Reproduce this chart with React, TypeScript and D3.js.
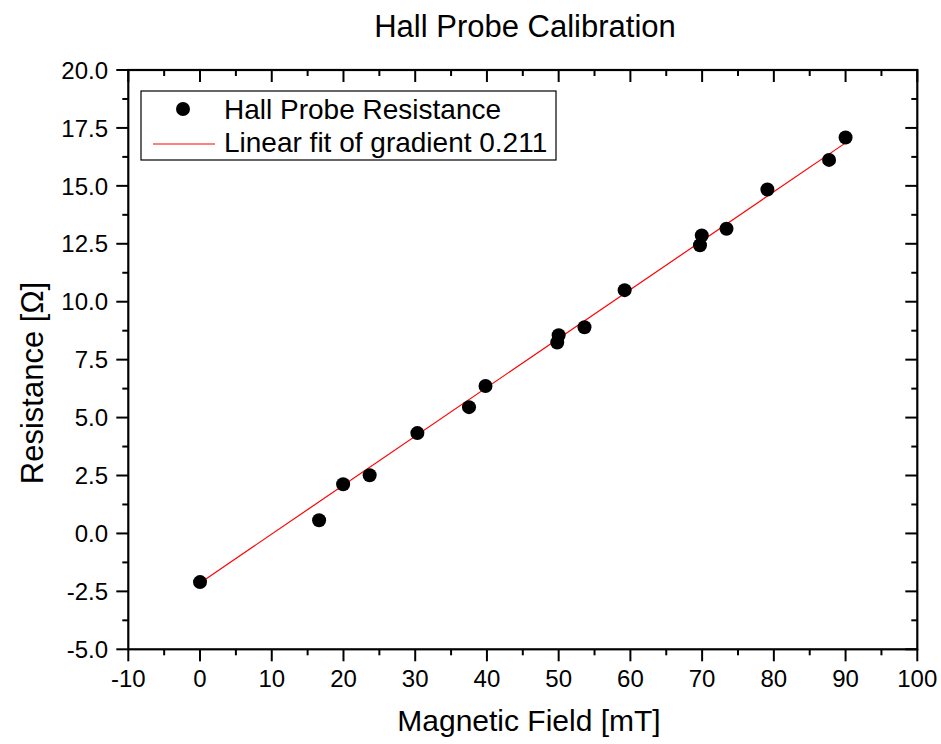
import React from "react";
import * as d3 from "d3";

const fieldMT = [0, 16.6, 19.95, 23.65, 30.3, 37.5, 39.8, 49.8, 50.0, 53.6, 59.2, 69.7, 69.95, 73.4, 79.1, 87.7, 90.0];
const resistanceOhm = [-2.1, 0.57, 2.12, 2.51, 4.33, 5.45, 6.36, 8.24, 8.55, 8.9, 10.5, 12.44, 12.86, 13.15, 14.84, 16.12, 17.09];
const fitSlope = 0.211;
const fitIntercept = -2.135;
const fitRange = [0, 90];
const xTicks = [-10, 0, 10, 20, 30, 40, 50, 60, 70, 80, 90, 100];
const xMinorTicks = [-5, 5, 15, 25, 35, 45, 55, 65, 75, 85, 95];
const yTicks = [-5, -2.5, 0, 2.5, 5, 7.5, 10, 12.5, 15, 17.5, 20];
const yMinorTicks = [-3.75, -1.25, 1.25, 3.75, 6.25, 8.75, 11.25, 13.75, 16.25, 18.75];

const FONT = "'Liberation Sans', Arial, sans-serif";

export default function App() {
  const W = 941, H = 744;
  const left = 128.3, right = 917.3, top = 70, bottom = 649.3;
  const x = d3.scaleLinear().domain([-10, 100]).range([left, right]);
  const y = d3.scaleLinear().domain([-5, 20]).range([bottom, top]);
  const major = 12, minor = 6;
  const line = d3.line<number>().x((d) => x(d)).y((d) => y(fitSlope * d + fitIntercept));

  return (
    <svg width={W} height={H} style={{ position: "absolute", left: 0, top: 0, background: "#fff" }} fontFamily={FONT}>
      <rect x={0} y={0} width={W} height={H} fill="#fff" />
      <text x={525} y={37} textAnchor="middle" fontSize={31}>Hall Probe Calibration</text>

      {/* fit line */}
      <path d={line(fitRange) || ""} stroke="#ff0000" strokeWidth={1.2} fill="none" />
      {/* points */}
      {fieldMT.map((v, i) => (
        <circle key={i} cx={x(v)} cy={y(resistanceOhm[i])} r={7} fill="#000" />
      ))}

      {/* frame */}
      <rect x={left} y={top} width={right - left} height={bottom - top} fill="none" stroke="#000" strokeWidth={2.2} />

      {/* x ticks */}
      {xTicks.map((t) => (
        <g key={"xt" + t}>
          <line x1={x(t)} x2={x(t)} y1={bottom} y2={bottom + major} stroke="#000" strokeWidth={2} />
          <line x1={x(t)} x2={x(t)} y1={top} y2={top + major} stroke="#000" strokeWidth={2} />
          <text x={x(t)} y={687} textAnchor="middle" fontSize={24}>{t}</text>
        </g>
      ))}
      {xMinorTicks.map((t) => (
        <g key={"xm" + t}>
          <line x1={x(t)} x2={x(t)} y1={bottom} y2={bottom + minor} stroke="#000" strokeWidth={2} />
          <line x1={x(t)} x2={x(t)} y1={top} y2={top + minor} stroke="#000" strokeWidth={2} />
        </g>
      ))}
      {/* y ticks */}
      {yTicks.map((t) => (
        <g key={"yt" + t}>
          <line x1={left - major} x2={left} y1={y(t)} y2={y(t)} stroke="#000" strokeWidth={2} />
          <line x1={right - major} x2={right} y1={y(t)} y2={y(t)} stroke="#000" strokeWidth={2} />
          <text x={108} y={y(t)} dy="0.36em" textAnchor="end" fontSize={24}>{t.toFixed(1)}</text>
        </g>
      ))}
      {yMinorTicks.map((t) => (
        <g key={"ym" + t}>
          <line x1={left - minor} x2={left} y1={y(t)} y2={y(t)} stroke="#000" strokeWidth={2} />
          <line x1={right - minor} x2={right} y1={y(t)} y2={y(t)} stroke="#000" strokeWidth={2} />
        </g>
      ))}

      {/* axis titles */}
      <text x={529} y={731} textAnchor="middle" fontSize={30}>Magnetic Field [mT]</text>
      <text transform="translate(43,383) rotate(-90)" textAnchor="middle" fontSize={31}>Resistance [Ω]</text>

      {/* legend */}
      <rect x={141} y={91} width={415} height={69} fill="#fff" stroke="#000" strokeWidth={1.2} />
      <circle cx={183} cy={109} r={7} fill="#000" />
      <text x={224} y={119} fontSize={28}>Hall Probe Resistance</text>
      <line x1={153} x2={215} y1={144} y2={144} stroke="#ff0000" strokeWidth={1.2} />
      <text x={224} y={152} fontSize={28}>Linear fit of gradient 0.211</text>
    </svg>
  );
}
